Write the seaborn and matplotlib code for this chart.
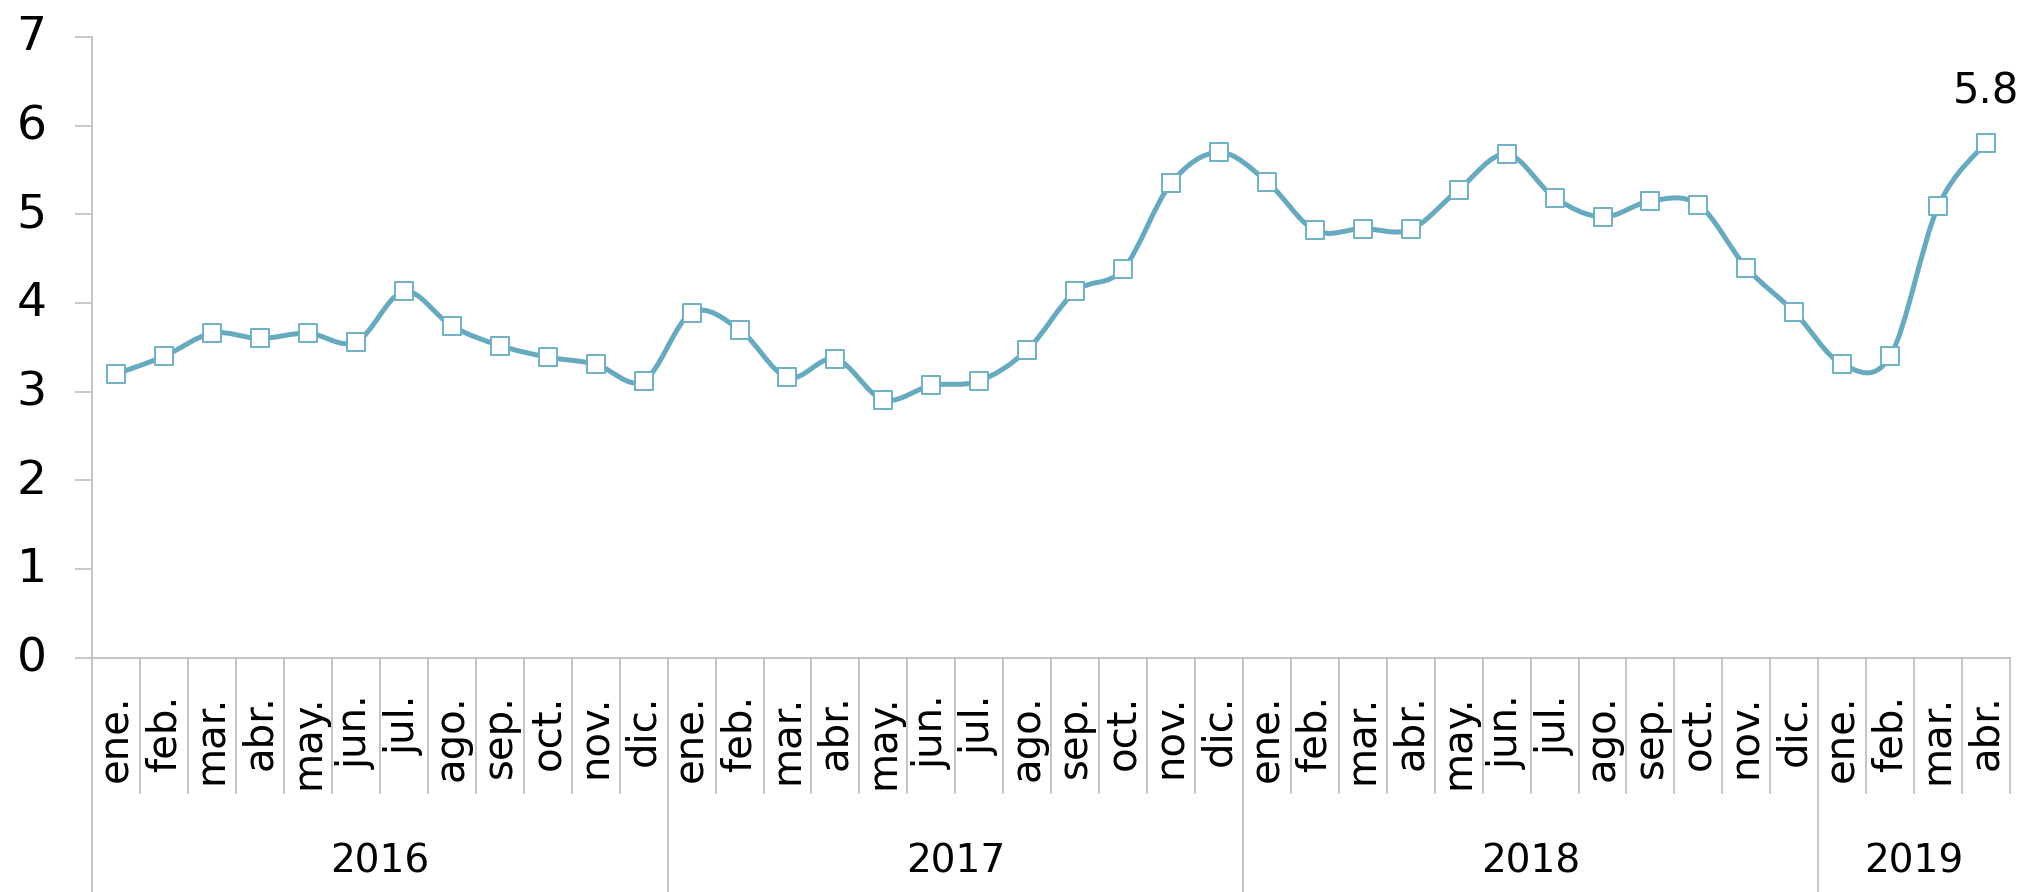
import numpy as np
import pandas as pd
import matplotlib
matplotlib.use("Agg")
import matplotlib.pyplot as plt
import seaborn as sns
from matplotlib.path import Path
from matplotlib.patches import PathPatch
from matplotlib import font_manager
import matplotlib.transforms as mtransforms

# ---------------- data ----------------
years = ["2016", "2017", "2018", "2019"]
months_per_year = [12, 12, 12, 4]
month_labels = ["ene.", "feb.", "mar.", "abr.", "may.", "jun.",
                "jul.", "ago.", "sep.", "oct.", "nov.", "dic."]
values_2016 = [3.20, 3.40, 3.66, 3.60, 3.66, 3.56, 4.13, 3.74, 3.52, 3.39, 3.31, 3.12]
values_2017 = [3.89, 3.70, 3.16, 3.37, 2.91, 3.07, 3.12, 3.47, 4.13, 4.38, 5.35, 5.70]
values_2018 = [5.37, 4.82, 4.84, 4.83, 5.28, 5.68, 5.19, 4.97, 5.15, 5.11, 4.40, 3.90]
values_2019 = [3.31, 3.40, 5.09, 5.81]
last_label = "5.8"
y_ticks = [0, 1, 2, 3, 4, 5, 6, 7]

values = values_2016 + values_2017 + values_2018 + values_2019
labels = []
year_of = []
for y, n in zip(years, months_per_year):
    labels += month_labels[:n]
    year_of += [y] * n
df = pd.DataFrame({"idx": np.arange(len(values)), "value": values,
                   "month": labels, "year": year_of})

# ---------------- style ----------------
sns.set_theme(style="white")
names = {f.name for f in font_manager.fontManager.ttflist}
narrow = next((n for n in ["Liberation Sans Narrow", "DejaVu Sans Condensed"] if n in names),
              "DejaVu Sans")
plt.rcParams["font.family"] = ["DejaVu Sans"]

LINE = "#67a9bf"
GREY = "#bfbfbf"

fig = plt.figure(figsize=(20.33, 8.92), dpi=100)
ax = fig.add_axes([0.0454, 0.2627, 0.9433, 0.6958])

# smooth (Bezier, Excel-like) line through the data points
x = df["idx"].to_numpy(dtype=float)
y = df["value"].to_numpy(dtype=float)
n = len(x)
verts = [(x[0], y[0])]
codes = [Path.MOVETO]
for i in range(n - 1):
    xm1, ym1 = (x[i - 1], y[i - 1]) if i > 0 else (x[i], y[i])
    xp2, yp2 = (x[i + 2], y[i + 2]) if i + 2 < n else (x[i + 1], y[i + 1])
    c1 = (x[i] + (x[i + 1] - xm1) / 6.0, y[i] + (y[i + 1] - ym1) / 6.0)
    c2 = (x[i + 1] - (xp2 - x[i]) / 6.0, y[i + 1] - (yp2 - y[i]) / 6.0)
    verts += [c1, c2, (x[i + 1], y[i + 1])]
    codes += [Path.CURVE4, Path.CURVE4, Path.CURVE4]
ax.add_patch(PathPatch(Path(verts, codes), facecolor="none", edgecolor=LINE,
                       lw=3.6, capstyle="round", joinstyle="round", zorder=2))

sns.scatterplot(data=df, x="idx", y="value", marker="s", s=150,
                color="white", edgecolor="#6fb0c6", linewidth=1.4, zorder=3, ax=ax)

# data label on last point
ax.annotate(last_label, (x[-1], y[-1]), xytext=(0, 37), textcoords="offset points",
            ha="center", va="center", fontsize=30, color="black")

ax.set_xlim(-0.5, n - 0.5)
ax.set_ylim(0, 7)
ax.set_xlabel("")
ax.set_ylabel("")
ax.set_yticks(y_ticks)
ax.set_yticklabels([str(t) for t in y_ticks], fontsize=34, family=[narrow, "DejaVu Sans"])
ax.tick_params(axis="y", which="both", left=True, length=12, width=1.2, color=GREY,
               pad=21, labelcolor="black")
shift = mtransforms.ScaledTranslation(0, 3 / 72, fig.dpi_scale_trans)
for lab in ax.get_yticklabels():
    lab.set_transform(lab.get_transform() + shift)
ax.set_xticks(df["idx"])
ax.set_xticklabels(df["month"], rotation=90, fontsize=29)
ax.tick_params(axis="x", bottom=False, length=0, pad=26.5, labelcolor="black")

for s in ["top", "right"]:
    ax.spines[s].set_visible(False)
for s in ["left", "bottom"]:
    ax.spines[s].set_color(GREY)
    ax.spines[s].set_linewidth(1.3)

# category separators and year labels
trans = mtransforms.blended_transform_factory(ax.transData, ax.transAxes)
starts = np.cumsum([0] + months_per_year[:-1])
year_bounds = set(starts.tolist())
for b in range(1, n + 1):
    xb = b - 0.5
    if b in year_bounds:
        continue
    ax.plot([xb, xb], [0, -0.218], transform=trans, color=GREY, lw=1.3, clip_on=False)
for b in year_bounds:
    xb = b - 0.5
    ax.plot([xb, xb], [0, -0.38], transform=trans, color=GREY, lw=1.3, clip_on=False)
for yname, st, cnt in zip(years, starts, months_per_year):
    ax.text(st + (cnt - 1) / 2.0, -0.329, yname, transform=trans, ha="center",
            va="center", fontsize=28, family=[narrow, "DejaVu Sans"], color="black")

fig.savefig("out.png", dpi=100)
